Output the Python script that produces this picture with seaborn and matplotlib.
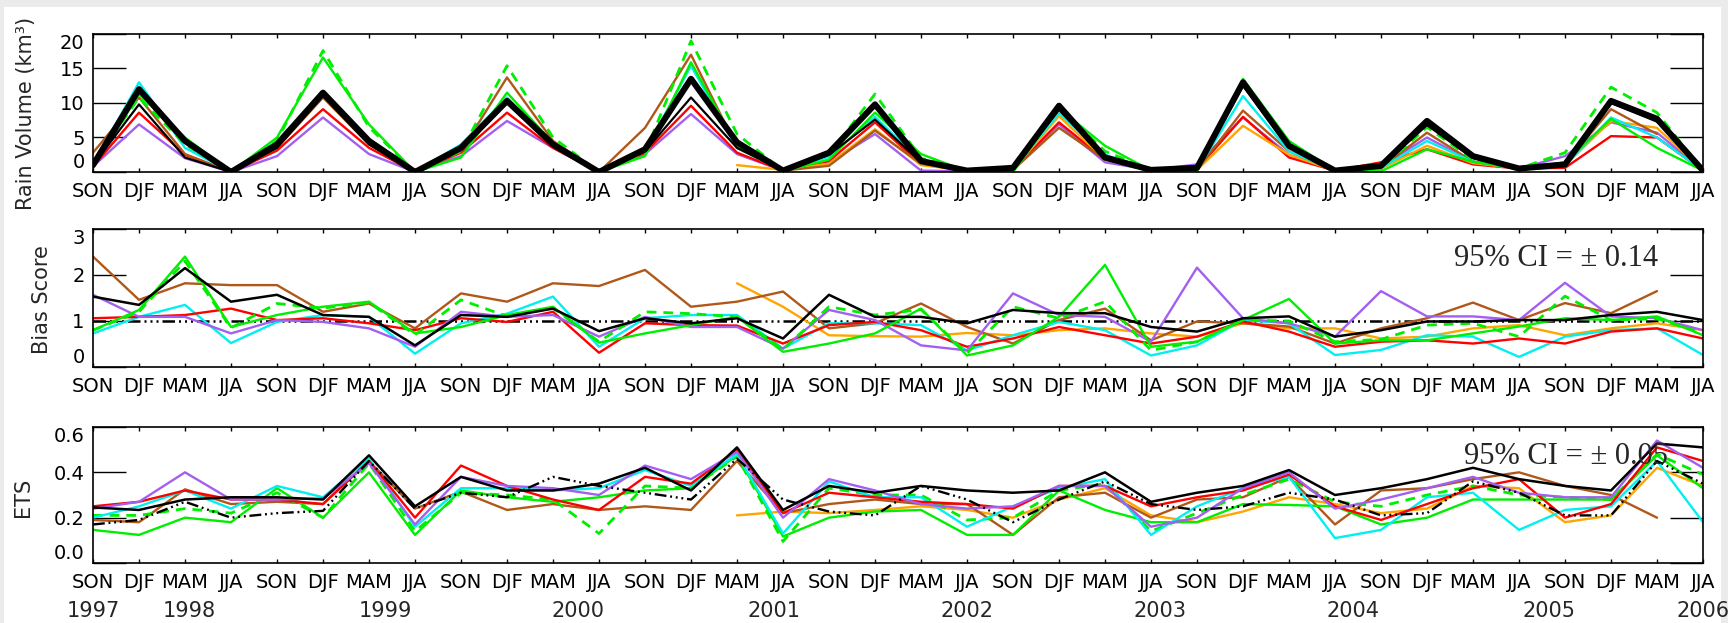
import numpy as np
import pandas as pd
import matplotlib
matplotlib.use("Agg")
import matplotlib.pyplot as plt
import matplotlib.transforms as mtransforms
from matplotlib.patches import Rectangle
from matplotlib import font_manager
import seaborn as sns

N = np.nan

# ---------------- data ----------------
seasons = ["SON", "DJF", "MAM", "JJA"] * 9
years = ["1997", "1998", "1999", "2000", "2001", "2002", "2003", "2004", "2005", "2006"]
year_label_at = [0, 2.1, 6.35, 10.55, 14.8, 19.0, 23.2, 27.4, 31.65, 35]

rain_obs = [1.0, 12.0, 4.5, 0.0, 4.0, 11.5, 4.5, 0.0, 3.5, 10.3, 4.0, 0.0,
            3.3, 13.5, 4.3, 0.2, 2.8, 9.8, 1.6, 0.2, 0.6, 9.6, 2.1, 0.3,
            0.6, 13.0, 3.8, 0.2, 0.9, 7.4, 2.3, 0.5, 1.1, 10.3, 7.7, 0.2]
rain_black = [1.0, 9.8, 2.1, 0.0, 3.5, 11.0, 4.0, 0.0, 3.2, 10.0, 3.8, 0.0,
              3.0, 10.8, 3.5, 0.2, 2.5, 7.6, 1.4, 0.2, 0.5, 9.0, 2.0, 0.3,
              0.5, 12.5, 3.5, 0.2, 0.8, 6.8, 2.0, 0.5, 1.0, 10.0, 7.3, 0.2]
rain_red = [0.8, 8.6, 2.5, 0.0, 3.1, 9.1, 3.5, 0.0, 2.8, 8.6, 3.5, 0.0,
            2.8, 9.6, 2.8, 0.2, 1.6, 7.2, 1.1, 0.2, 0.4, 7.2, 1.8, 0.3,
            0.4, 8.0, 2.1, 0.2, 1.4, 3.3, 1.1, 0.5, 0.6, 5.2, 5.0, 0.2]
rain_green = [0.6, 11.3, 5.0, 0.0, 5.0, 16.6, 6.9, 0.0, 2.1, 11.5, 4.2, 0.0,
              2.3, 15.9, 3.8, 0.1, 1.8, 8.6, 2.6, 0.1, 0.0, 9.2, 3.8, 0.2,
              0.1, 13.5, 4.5, 0.2, 0.1, 3.3, 1.5, 0.5, 1.4, 7.7, 3.5, 0.2]
rain_green_dash = [1.2, 10.8, 4.0, 0.0, 4.5, 17.6, 6.5, 0.0, 3.0, 15.4, 5.0, 0.0,
                   2.8, 19.0, 5.5, 0.2, 2.5, 11.3, 2.0, 0.2, 0.5, 9.4, 3.0, 0.3,
                   0.4, 13.0, 4.0, 0.2, 0.5, 6.5, 1.8, 0.5, 2.8, 12.3, 8.6, 0.2]
rain_cyan = [1.0, 13.0, 3.5, 0.0, 4.5, 11.5, 4.2, 0.0, 4.0, 10.8, 4.0, 0.0,
             3.0, 15.4, 3.5, 0.2, 2.2, 8.0, 1.5, 0.2, 0.4, 8.5, 2.5, 0.3,
             0.3, 11.0, 3.0, 0.2, 0.6, 4.5, 1.5, 0.5, 1.0, 7.9, 5.0, 0.2]
rain_purple = [0.8, 6.9, 2.0, 0.0, 2.3, 7.9, 2.6, 0.0, 2.3, 7.4, 3.5, 0.0,
               2.6, 8.4, 2.6, 0.2, 1.4, 5.5, 0.2, 0.1, 0.4, 6.9, 1.4, 0.3,
               1.1, 7.9, 2.5, 0.2, 0.8, 5.0, 1.5, 0.5, 2.3, 7.2, 5.7, 0.2]
rain_brown = [2.8, 10.8, 2.6, 0.0, 3.5, 10.8, 4.0, 0.0, 3.0, 13.7, 4.5, 0.0,
              6.4, 17.0, 3.5, 0.2, 0.9, 6.0, 1.2, 0.2, 0.3, 6.4, 1.8, 0.3,
              0.3, 8.9, 3.0, 0.2, 0.6, 5.7, 1.5, 0.5, 1.2, 9.1, 5.5, N]
rain_orange = [N, N, N, N, N, N, N, N, N, N, N, N,
               N, N, 1.0, 0.3, 1.2, 6.2, 1.0, 0.2, 0.3, 8.1, 1.8, 0.3,
               0.3, 6.7, 2.5, 0.2, 0.5, 3.8, 1.3, 0.5, 1.0, 7.4, 6.4, 0.2]

bias_ref = 1.0
bias_black = [1.53, 1.35, 2.15, 1.42, 1.57, 1.13, 1.09, 0.47, 1.13, 1.09, 1.27, 0.78,
              1.06, 0.95, 1.06, 0.62, 1.57, 1.09, 1.09, 0.95, 1.24, 1.17, 1.17, 0.87,
              0.77, 1.06, 1.10, 0.66, 0.80, 0.99, 0.99, 1.02, 1.02, 1.13, 1.20, 1.02]
bias_red = [1.06, 1.09, 1.13, 1.27, 1.02, 1.06, 0.95, 0.80, 1.06, 0.98, 1.20, 0.31,
            0.95, 0.91, 0.90, 0.51, 0.91, 0.98, 0.80, 0.44, 0.62, 0.87, 0.69, 0.51,
            0.66, 0.99, 0.77, 0.44, 0.55, 0.58, 0.51, 0.62, 0.51, 0.77, 0.84, 0.62]
bias_green = [0.80, 1.24, 2.40, 0.87, 1.13, 1.31, 1.42, 0.73, 0.87, 1.13, 1.31, 0.53,
              0.73, 0.91, 1.09, 0.33, 0.51, 0.73, 1.27, 0.25, 0.47, 1.09, 2.22, 0.44,
              0.55, 1.02, 1.48, 0.51, 0.58, 0.58, 0.73, 0.88, 1.06, 1.02, 1.10, 0.69]
bias_green_dash = [0.80, 1.20, 2.30, 0.85, 1.38, 1.28, 1.40, 0.70, 1.46, 1.10, 1.28, 0.55,
                   1.20, 1.16, 1.09, 0.38, 1.31, 1.13, 1.25, 0.30, 1.31, 1.06, 1.42, 0.36,
                   0.55, 1.02, 1.00, 0.55, 0.60, 0.91, 0.95, 0.66, 1.54, 1.02, 1.05, 0.73]
bias_cyan = [0.73, 1.09, 1.35, 0.52, 0.98, 1.13, 1.09, 0.29, 0.95, 1.16, 1.53, 0.44,
             1.06, 1.13, 1.13, 0.40, 0.95, 0.95, 0.91, 0.36, 0.69, 0.98, 0.80, 0.25,
             0.47, 1.02, 0.95, 0.26, 0.37, 0.69, 0.66, 0.22, 0.66, 0.80, 0.84, 0.26]
bias_purple = [1.57, 1.09, 1.09, 0.73, 1.02, 0.98, 0.84, 0.44, 1.20, 1.09, 1.13, 0.66,
               1.09, 0.87, 0.87, 0.40, 1.24, 1.02, 0.47, 0.36, 1.60, 1.13, 1.09, 0.55,
               2.16, 1.06, 0.95, 0.66, 1.65, 1.10, 1.10, 1.02, 1.83, 1.10, 1.06, 0.80]
bias_brown = [2.40, 1.46, 1.82, 1.78, 1.78, 1.20, 1.38, 0.84, 1.60, 1.42, 1.82, 1.76,
              2.11, 1.31, 1.42, 1.64, 0.84, 0.95, 1.38, 0.87, 0.51, 1.02, 1.27, 0.58,
              0.99, 0.95, 0.88, 0.51, 0.84, 1.06, 1.40, 1.02, 1.39, 1.17, 1.65, N]
bias_orange = [N, N, N, N, N, N, N, N, N, N, N, N,
               N, N, 1.82, 1.31, 0.69, 0.67, 0.66, 0.74, 0.69, 0.80, 0.84, 0.73,
               0.66, 0.95, 0.84, 0.84, 0.62, 0.66, 0.84, 0.91, 0.69, 0.84, 0.95, 0.80]

ets_black = [0.245, 0.234, 0.28, 0.29, 0.29, 0.28, 0.475, 0.25, 0.38, 0.32, 0.32, 0.35,
             0.42, 0.32, 0.51, 0.234, 0.34, 0.31, 0.34, 0.32, 0.31, 0.32, 0.40, 0.27,
             0.31, 0.34, 0.41, 0.30, 0.33, 0.37, 0.42, 0.37, 0.34, 0.32, 0.527, 0.51]
ets_black_dd = [0.17, 0.19, 0.27, 0.20, 0.22, 0.23, 0.45, 0.24, 0.31, 0.29, 0.38, 0.34,
                0.31, 0.28, 0.46, 0.28, 0.227, 0.21, 0.34, 0.28, 0.18, 0.28, 0.36, 0.26,
                0.234, 0.25, 0.31, 0.28, 0.21, 0.22, 0.36, 0.31, 0.21, 0.21, 0.45, 0.35]
ets_red = [0.25, 0.27, 0.32, 0.28, 0.28, 0.26, 0.45, 0.20, 0.43, 0.34, 0.28, 0.234,
           0.38, 0.35, 0.50, 0.22, 0.31, 0.29, 0.27, 0.26, 0.24, 0.34, 0.34, 0.25,
           0.29, 0.32, 0.39, 0.25, 0.19, 0.26, 0.33, 0.37, 0.20, 0.26, 0.51, 0.45]
ets_green = [0.146, 0.124, 0.20, 0.18, 0.33, 0.20, 0.40, 0.124, 0.32, 0.29, 0.27, 0.29,
             0.32, 0.33, 0.475, 0.117, 0.20, 0.227, 0.234, 0.124, 0.124, 0.32, 0.234, 0.18,
             0.18, 0.26, 0.256, 0.25, 0.17, 0.20, 0.28, 0.28, 0.28, 0.28, 0.475, 0.33]
ets_green_dash = [0.21, 0.21, 0.24, 0.22, 0.31, 0.20, 0.44, 0.14, 0.31, 0.30, 0.28, 0.13,
                  0.34, 0.33, 0.47, 0.095, 0.33, 0.30, 0.30, 0.19, 0.20, 0.32, 0.35, 0.14,
                  0.22, 0.30, 0.37, 0.27, 0.25, 0.30, 0.34, 0.30, 0.29, 0.28, 0.48, 0.39]
ets_cyan = [0.20, 0.25, 0.32, 0.24, 0.34, 0.29, 0.46, 0.16, 0.33, 0.33, 0.32, 0.33,
            0.41, 0.34, 0.48, 0.13, 0.36, 0.29, 0.29, 0.16, 0.25, 0.33, 0.37, 0.124,
            0.25, 0.33, 0.38, 0.11, 0.146, 0.29, 0.31, 0.146, 0.234, 0.25, 0.45, 0.18]
ets_purple = [0.24, 0.27, 0.40, 0.28, 0.28, 0.285, 0.44, 0.17, 0.38, 0.34, 0.33, 0.30,
              0.43, 0.37, 0.49, 0.20, 0.37, 0.32, 0.26, 0.24, 0.25, 0.34, 0.34, 0.16,
              0.20, 0.33, 0.40, 0.24, 0.28, 0.33, 0.38, 0.31, 0.29, 0.29, 0.54, 0.42]
ets_brown = [0.19, 0.18, 0.325, 0.26, 0.27, 0.26, 0.45, 0.24, 0.315, 0.234, 0.26, 0.234,
             0.25, 0.234, 0.45, 0.22, 0.26, 0.28, 0.26, 0.26, 0.124, 0.29, 0.31, 0.20,
             0.28, 0.29, 0.38, 0.17, 0.32, 0.33, 0.37, 0.40, 0.34, 0.30, 0.20, N]
ets_orange = [N, N, N, N, N, N, N, N, N, N, N, N,
              N, N, 0.21, 0.227, 0.22, 0.234, 0.25, 0.234, 0.20, 0.28, 0.33, 0.21,
              0.18, 0.227, 0.29, 0.26, 0.22, 0.24, 0.34, 0.33, 0.18, 0.21, 0.42, 0.34]

ci_bias = "95% CI = ± 0.14"
ci_ets = "95% CI = ± 0.05"

# ---------------- style ----------------
sns.set_style("white")
avail = {f.name for f in font_manager.fontManager.ttflist}
sans = "Liberation Sans Narrow" if "Liberation Sans Narrow" in avail else "DejaVu Sans"
serif = "Liberation Serif" if "Liberation Serif" in avail else "DejaVu Serif"
plt.rcParams["font.family"] = [sans, "DejaVu Sans"]

C = {"red": "#ff0000", "green": "#00ee00", "cyan": "#00f0f0", "purple": "#a35ff0",
     "brown": "#b0581a", "orange": "#ffa500", "black": "#000000"}
DASH = (0, (3.5, 2.5))
DDD = (0, (5, 1.6, 0.8, 1.6, 0.8, 1.6, 0.8, 1.6))

W, H = 1728, 623
fig = plt.figure(figsize=(W / 100, H / 100), dpi=100)
fig.patch.set_facecolor("#ebebeb")
fig.add_artist(Rectangle((4 / W, 0), (1721 - 4) / W, (H - 7) / H, transform=fig.transFigure,
                         facecolor="white", edgecolor="none", zorder=-10))

L, R = 93, 1703


def ax_at(top, bottom):
    return fig.add_axes([L / W, 1 - bottom / H, (R - L) / W, (bottom - top) / H])


ax1 = ax_at(34, 172)
ax2 = ax_at(229, 367)
ax3 = ax_at(427, 563)

x = np.arange(len(seasons))


def draw(ax, y, color, lw=1.7, ls="-", z=2):
    d = pd.DataFrame({"x": x, "y": y}).dropna()
    sns.lineplot(data=d, x="x", y="y", ax=ax, color=color, linewidth=lw, linestyle=ls,
                 zorder=z, estimator=None, errorbar=None, legend=False)


# Panel 1
draw(ax1, rain_purple, C["purple"])
draw(ax1, rain_red, C["red"])
draw(ax1, rain_orange, C["orange"])
draw(ax1, rain_brown, C["brown"])
draw(ax1, rain_cyan, C["cyan"])
draw(ax1, rain_green, C["green"])
draw(ax1, rain_green_dash, C["green"], lw=2.0, ls=DASH)
draw(ax1, rain_black, C["black"], lw=1.6, z=3)
draw(ax1, rain_obs, C["black"], lw=4.4, z=4)

# Panel 2
ax2.axhline(bias_ref, color="black", lw=1.8, ls=DDD, zorder=1)
draw(ax2, bias_orange, C["orange"])
draw(ax2, bias_brown, C["brown"])
draw(ax2, bias_cyan, C["cyan"])
draw(ax2, bias_red, C["red"])
draw(ax2, bias_purple, C["purple"])
draw(ax2, bias_green, C["green"])
draw(ax2, bias_green_dash, C["green"], lw=2.0, ls=DASH)
draw(ax2, bias_black, C["black"], lw=1.8, z=3)

# Panel 3
draw(ax3, ets_orange, C["orange"])
draw(ax3, ets_brown, C["brown"])
draw(ax3, ets_green, C["green"])
draw(ax3, ets_green_dash, C["green"], lw=2.0, ls=DASH)
draw(ax3, ets_cyan, C["cyan"])
draw(ax3, ets_red, C["red"])
draw(ax3, ets_purple, C["purple"])
draw(ax3, ets_black_dd, C["black"], lw=1.7, ls=DDD, z=3)
draw(ax3, ets_black, C["black"], lw=1.8, z=3)

ylims = [(0, 20), (0, 3), (0, 0.6)]
yticks = [[0, 5, 10, 15, 20], [0, 1, 2, 3], [0.0, 0.2, 0.4, 0.6]]
ytl = [["0", "5", "10", "15", "20"], ["0", "1", "2", "3"], ["0.0", "0.2", "0.4", "0.6"]]
for ax, yl, yt, tl in zip([ax1, ax2, ax3], ylims, yticks, ytl):
    ax.set_xlim(0, 35)
    ax.set_ylim(*yl)
    ax.set_xticks(x)
    ax.set_xticklabels(seasons)
    ax.set_yticks(yt)
    ax.set_yticklabels(tl)
    ax.set_xlabel("")
    ax.set_ylabel("")
    ax.tick_params(axis="x", direction="in", length=2.6, width=1, top=True, bottom=True,
                   labelsize=14, pad=7.5, colors="black")
    ax.tick_params(axis="y", direction="in", length=24, width=1, left=True, right=True,
                   labelsize=14, pad=6, colors="black")
    labs = ax.get_yticklabels()
    labs[0].set_verticalalignment("bottom")
    labs[-1].set_verticalalignment("top")
    for s in ax.spines.values():
        s.set_color("black")
        s.set_linewidth(1.2)
        s.set_visible(True)
    ax.set_facecolor("white")

# y labels
fig.text(26 / W, 1 - 210 / H, "Rain Volume (km³)", rotation=90, ha="center", va="bottom",
         fontsize=15)
fig.text(42 / W, 1 - 300 / H, "Bias Score", rotation=90, ha="center", va="center", fontsize=15)
fig.text(23 / W, 1 - 497 / H, "ETS", rotation=90, ha="center", va="center", fontsize=15)

# CI annotations
fig.text(1658 / W, 1 - 259 / H, ci_bias, ha="right", va="center", fontsize=22,
         family=[serif, "DejaVu Serif"], zorder=10)
fig.text(1668 / W, 1 - 456 / H, ci_ets, ha="right", va="center", fontsize=22,
         family=[serif, "DejaVu Serif"], zorder=10)

# year labels
trans = mtransforms.blended_transform_factory(ax3.transData, fig.transFigure)
for pos, yr in zip(year_label_at, years):
    ax3.text(pos, 1 - 611 / H, yr, transform=trans, ha="center", va="center", fontsize=15,
             clip_on=False)

fig.savefig("out.png", dpi=100, facecolor=fig.get_facecolor())
